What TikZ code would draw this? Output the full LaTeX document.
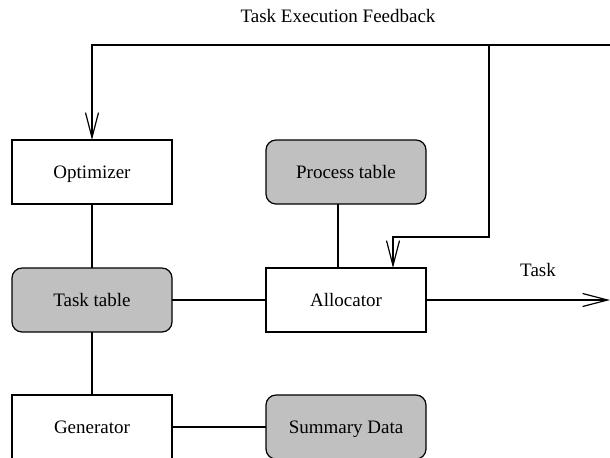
\documentclass[tikz,border=0pt]{standalone}
\usepackage{fontspec}
\setmainfont{Liberation Serif}
\usetikzlibrary{arrows.meta}
\definecolor{tablegray}{RGB}{192,192,192}
\tikzset{
  unit/.style={draw, line width=0.6pt, minimum width=80pt, minimum height=32pt,
    inner sep=0pt, outer sep=0pt, text height=6.3pt, text depth=0pt,
    font=\fontsize{9.5}{11}\selectfont},
  datastore/.style={unit, fill=tablegray, rounded corners=5pt},
  link/.style={line width=0.6pt},
  flow/.style={link, -{Straight Barb[length=12.5pt,width=6.5pt,line width=0.6pt]}},
  caption/.style={font=\fontsize{9.5}{11}\selectfont, inner sep=0pt}
}
\begin{document}
\begin{tikzpicture}[x=0.5pt, y=-0.5pt]
  \clip (0,0) rectangle (610,457);
  \fill[white] (0,0) rectangle (610,457);

  % left column
  \node[unit]      (opt)   at (92,172) {Optimizer};
  \node[datastore] (tasks) at (92,300) {Task table};
  \node[unit]      (gen)   at (92,427) {Generator};

  % right column
  \node[datastore] (proc)  at (346,172) {Process table};
  \node[unit]      (alloc) at (346,300) {Allocator};
  \node[datastore] (summ)  at (346,427) {Summary Data};

  % plain links
  \draw[link] (opt) -- (tasks);
  \draw[link] (tasks) -- (gen);
  \draw[link] (tasks) -- (alloc);
  \draw[link] (gen) -- (summ);
  \draw[link] ([xshift=-4pt]proc.south) -- ([xshift=-4pt]alloc.north);

  % feedback loop
  \coordinate (fbin)    at (610,45);
  \coordinate (fbsplit) at (489,45);
  \coordinate (fbturn)  at (489,237);
  \draw[flow] (fbin) -| (opt.north);
  \draw[flow] (fbsplit) -- (fbturn) -| ([xshift=23.5pt]alloc.north);
  \node[caption] (fblabel) at (338,16) {Task Execution Feedback};

  % task output
  \coordinate (taskout) at (610,300);
  \draw[flow] (alloc) -- (taskout);
  \node[caption] (tasklabel) at (538,270) {Task};
\end{tikzpicture}
\end{document}
